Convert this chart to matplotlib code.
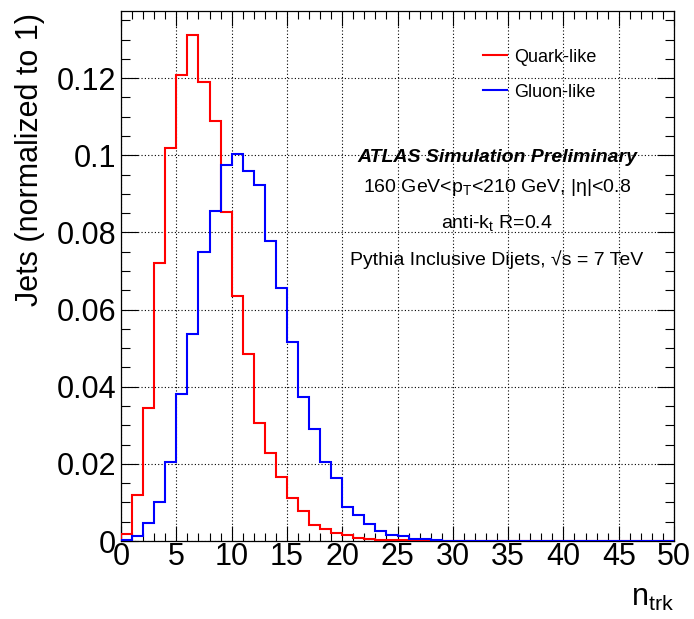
import matplotlib.pyplot as plt
import numpy as np
from matplotlib.lines import Line2D
from matplotlib.ticker import MultipleLocator

plt.rcParams['font.family'] = ['Liberation Sans', 'DejaVu Sans']
plt.rcParams['mathtext.fontset'] = 'custom'
plt.rcParams['mathtext.rm'] = 'Liberation Sans'
plt.rcParams['mathtext.it'] = 'Liberation Sans'

# n_trk bins 0..50, unit width
bin_edges = np.arange(0, 51)

# normalized jet fractions per bin
quark_like = [0.0017, 0.0120, 0.0346, 0.0722, 0.1020, 0.1207, 0.1311, 0.1189, 0.1090, 0.0854,
              0.0635, 0.0486, 0.0306, 0.0229, 0.0166, 0.0111, 0.0077, 0.0041, 0.0030, 0.0020,
              0.0016, 0.0007, 0.0004, 0.0003, 0.0002, 0.0002, 0.0001, 0.0001, 0.0001, 0.00005,
              0.00005, 0.00003, 0.00002, 0, 0, 0, 0, 0, 0, 0,
              0, 0, 0, 0, 0, 0, 0, 0, 0, 0]
gluon_like = [0.0003, 0.0013, 0.0047, 0.0102, 0.0206, 0.0380, 0.0537, 0.0748, 0.0856, 0.0975,
              0.1003, 0.0960, 0.0924, 0.0777, 0.0657, 0.0516, 0.0374, 0.0291, 0.0205, 0.0164,
              0.0089, 0.0068, 0.0043, 0.0027, 0.0016, 0.0012, 0.0005, 0.0004, 0.0002, 0.0001,
              0.00005, 0.00003, 0, 0, 0, 0, 0, 0, 0, 0,
              0, 0, 0, 0, 0, 0, 0, 0, 0, 0]

x_ticks = [0, 5, 10, 15, 20, 25, 30, 35, 40, 45, 50]
y_ticks = [0, 0.02, 0.04, 0.06, 0.08, 0.1, 0.12]
y_tick_labels = ['0', '0.02', '0.04', '0.06', '0.08', '0.1', '0.12']

fig = plt.figure(figsize=(6.94, 6.19), dpi=100)
ax = fig.add_axes([0.1744, 0.126, 0.7968, 0.8562])

ax.stairs(quark_like, bin_edges, color='red', lw=1.5, zorder=3)
ax.stairs(gluon_like, bin_edges, color='blue', lw=1.5, zorder=3)

ax.set_xlim(0, 50)
ax.set_ylim(0, 0.1374)
ax.set_xticks(x_ticks)
ax.set_yticks(y_ticks)
ax.set_yticklabels(y_tick_labels)
ax.xaxis.set_minor_locator(MultipleLocator(1))
ax.yaxis.set_minor_locator(MultipleLocator(0.005))

ax.tick_params(which='both', direction='in', top=True, right=True, width=0.8, labelsize=22)
ax.tick_params(axis='x', which='major', length=11, pad=1)
ax.tick_params(axis='x', which='minor', length=5.5)
ax.tick_params(axis='y', which='major', length=12, pad=3.5)
ax.tick_params(axis='y', which='minor', length=6.5)
for sp in ax.spines.values():
    sp.set_linewidth(0.9)

ax.grid(True, which='major', color='black', linestyle=(0, (1, 2)), lw=0.8)

ax.set_ylabel('Jets (normalized to 1)', fontsize=22, loc='top')
ax.yaxis.set_label_coords(-0.137, 0.996)
ax.set_xlabel(r'$\mathregular{n_{trk}}$', fontsize=22, loc='right', va='baseline')
ax.xaxis.set_label_coords(1.0, -0.1226)

handles = [Line2D([], [], color='red', lw=1.5), Line2D([], [], color='blue', lw=1.5)]
ax.legend(handles, ['Quark-like', 'Gluon-like'], loc='upper left', bbox_to_anchor=(0.6546, 0.929),
          frameon=False, fontsize=13, handlelength=1.33, handletextpad=0.4,
          labelspacing=1.0, borderpad=0, borderaxespad=0)

tx = 0.680
ax.text(tx, 0.715, 'ATLAS Simulation Preliminary', transform=ax.transAxes, ha='center',
        va='baseline', fontsize=14, fontweight='bold', fontstyle='italic')
ax.text(tx, 0.658, r'160 GeV<$\mathregular{p_{T}}$<210 GeV, |η|<0.8', transform=ax.transAxes,
        ha='center', va='baseline', fontsize=14)
ax.text(tx, 0.5906, r'anti-$\mathregular{k_{t}}$ R=0.4', transform=ax.transAxes,
        ha='center', va='baseline', fontsize=14)
ax.text(tx, 0.5213, 'Pythia Inclusive Dijets, √s = 7 TeV', transform=ax.transAxes,
        ha='center', va='baseline', fontsize=14)

fig.savefig('out.png', dpi=100)
